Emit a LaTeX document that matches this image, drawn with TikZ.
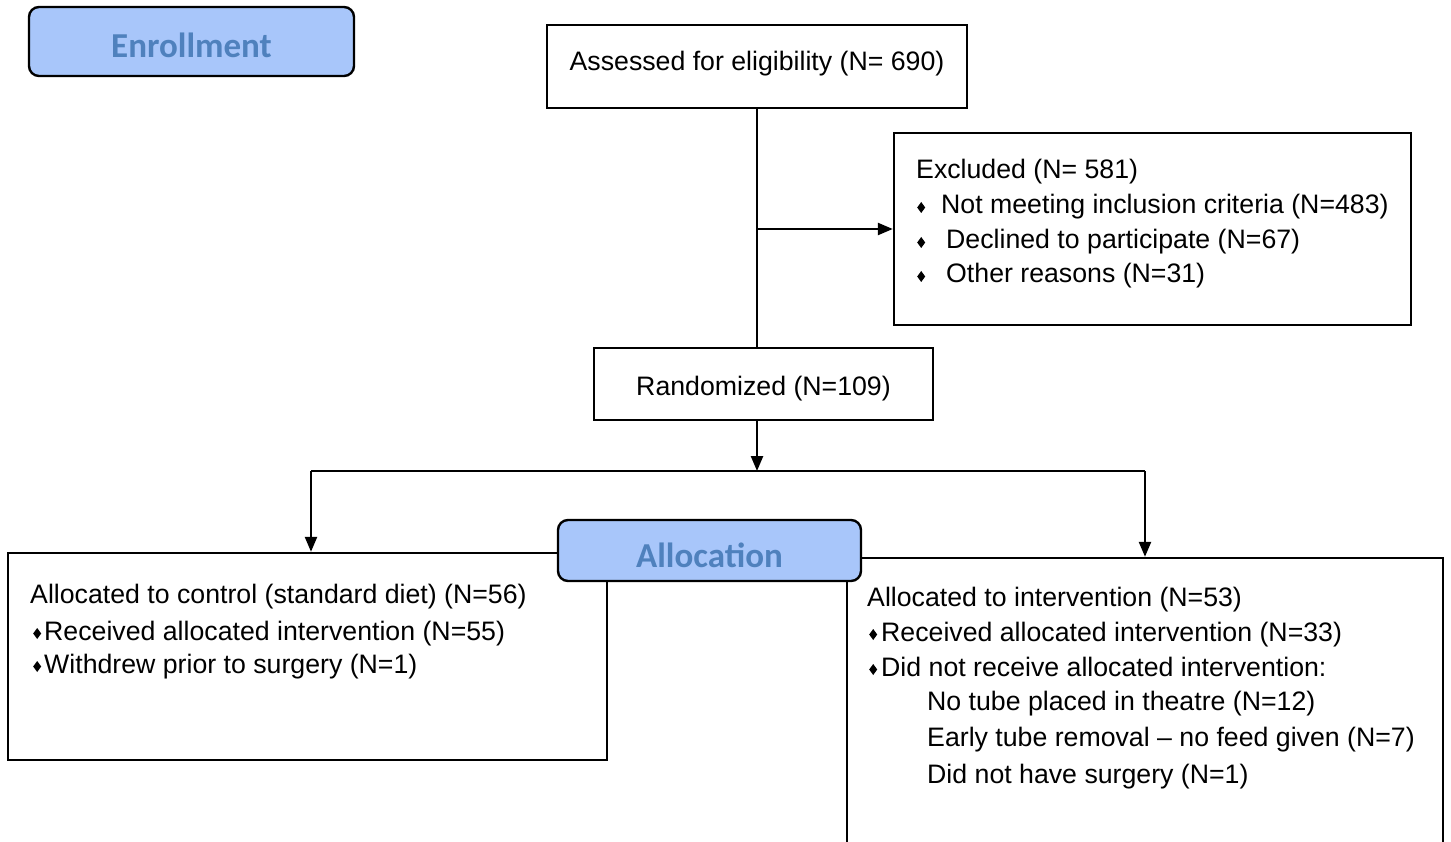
\documentclass[tikz,border=0pt]{standalone}
\usepackage{fontspec}
\setmainfont{Liberation Sans}
\newfontfamily\phasefont{Carlito}
\usetikzlibrary{arrows.meta,positioning}
\definecolor{phasefill}{RGB}{168,198,250}
\definecolor{phasetext}{RGB}{79,129,189}
\newcommand{\bul}{\tikz[baseline=0pt]\fill (0pt,6.5pt) -- (4pt,1pt) -- (8pt,6.5pt) -- (4pt,12pt) -- cycle;}
\tikzset{
  box/.style={draw, line width=2.4pt, rectangle, inner sep=0pt, font=\fontsize{26.7}{32}\selectfont},
  phase/.style={draw, line width=2.4pt, rounded corners=10pt, fill=phasefill, text=phasetext, inner sep=0pt, text depth=0pt, font=\phasefont\bfseries\fontsize{35}{40}\selectfont},
  line/.style={line width=2.4pt},
  arr/.style={line width=2.4pt, -{Triangle[length=15pt,width=12pt]}},
  txt/.style={anchor=west, inner sep=0pt, text height=20pt, text depth=0pt, font=\fontsize{26.7}{32}\selectfont},
}

\begin{document}
\begin{tikzpicture}[x=1pt, y=-1pt]
    \useasboundingbox (0,0) rectangle (1451,842);
    \clip (0,0) rectangle (1451,842);

    % boxes
    \node[phase, minimum width=325pt, minimum height=69pt, text height=32pt] (enroll) at (191.5,41.5) {Enrollment};
    \node[box, minimum width=420pt, minimum height=83pt, text height=20pt, text depth=12pt] (assess) at (757,66.5) {Assessed for eligibility (N= 690)};
    \node[box, minimum width=517pt, minimum height=192pt] (excl) at (1152.5,229) {};
    \node[box, minimum width=339pt, minimum height=72pt, text height=23pt, text depth=0pt] (rand) at (763.5,384) {Randomized (N=109)};
    \node[box, minimum width=599pt, minimum height=207pt] (ctrl) at (307.5,656.5) {};
    \node[box, minimum width=596pt, minimum height=344pt] (intv) at (1145,730) {};

    % excluded
    \node[txt] (ex0) at (916,169) {Excluded (N= 581)};
    \node[txt] (ex1) at (917,204) {\bul\hspace{16pt}Not meeting inclusion criteria (N=483)};
    \node[txt] (ex2) at (917,239) {\bul\hspace{21pt}Declined to participate (N=67)};
    \node[txt] (ex3) at (917,273) {\bul\hspace{21pt}Other reasons (N=31)};

    % control arm
    \node[txt] (ct0) at (30,593) {Allocated to control (standard diet) (N=56)};
    \node[txt] (ct1) at (33,630) {\bul\hspace{3pt}Received allocated intervention (N=55)};
    \node[txt] (ct2) at (33,663) {\bul\hspace{3pt}Withdrew prior to surgery (N=1)};

    % intervention arm
    \node[txt] (iv0) at (867,596) {Allocated to intervention (N=53)};
    \node[txt] (iv1) at (869,631) {\bul\hspace{4pt}Received allocated intervention (N=33)};
    \node[txt] (iv2) at (869,666) {\bul\hspace{4pt}Did not receive allocated intervention:};
    \node[txt] (iv3) at (927,700) {No tube placed in theatre (N=12)};
    \node[txt] (iv4) at (927,736) {Early tube removal -- no feed given (N=7)};
    \node[txt] (iv5) at (927,773) {Did not have surgery (N=1)};

    % connectors
    \coordinate (split) at (757,471);
    \coordinate (lefttop) at (311,471);
    \coordinate (righttop) at (1145,471);
    \draw[line] (assess.south) -- (assess.south |- rand.north);
    \draw[arr] (split |- excl.west) -- (excl.west);
    \draw[arr] (split |- rand.south) -- (split);
    \draw[line] (lefttop) -- (righttop);
    \draw[arr] (lefttop) -- (lefttop |- ctrl.north);
    \draw[arr] (righttop) -- (righttop |- intv.north);

    \node[phase, minimum width=303pt, minimum height=61pt, text height=33pt] (alloc) at (709.5,550.5) {Allocation};
\end{tikzpicture}
\end{document}
